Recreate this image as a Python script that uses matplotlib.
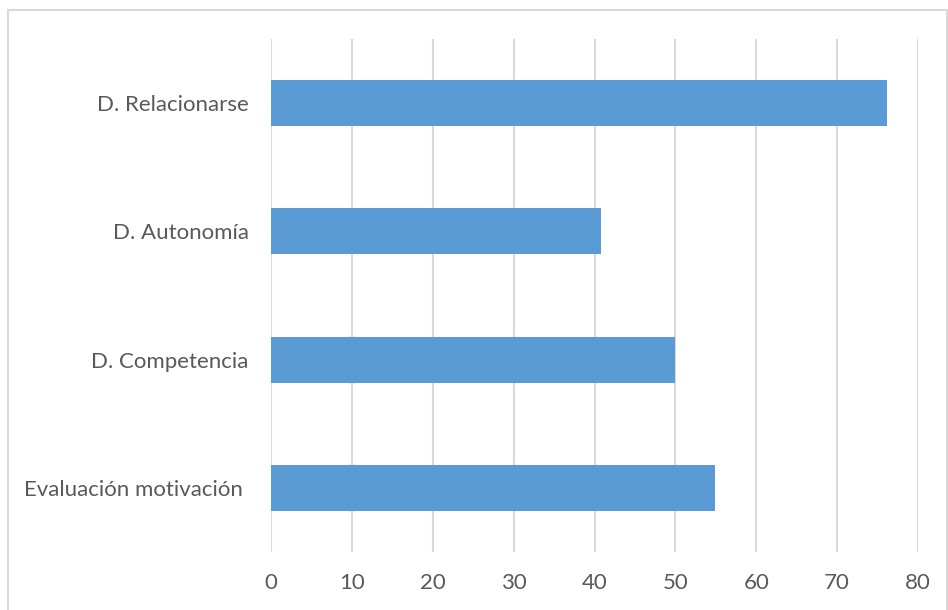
import matplotlib.pyplot as plt
from matplotlib.lines import Line2D

# datos del gráfico
categorias = ["Evaluación motivación ", "D. Competencia", "D. Autonomía", "D. Relacionarse"]
valores = [54.9, 50.0, 40.8, 76.2]
ticks_x = [0, 10, 20, 30, 40, 50, 60, 70, 80]

plt.rcParams['font.family'] = ['Lato', 'DejaVu Sans']

fig = plt.figure(figsize=(9.48, 6.10), dpi=100)
W, H = 948, 610
ax = fig.add_axes([271 / W, 1 - 552 / H, (918 - 271) / W, (552 - 39) / H])

ax.barh(range(len(categorias)), valores, height=0.36, color="#5b9bd5", zorder=3)

ax.set_xlim(0, 80)
ax.set_ylim(-0.5, len(categorias) - 0.5)
ax.set_xticks(ticks_x)
ax.set_yticks(range(len(categorias)))
ax.set_yticklabels(categorias)

ax.grid(axis="x", color="#d9d9d9", linewidth=1.5, zorder=0)
ax.tick_params(axis="both", length=0, labelsize=16, labelcolor="#595959")
ax.tick_params(axis="x", pad=15)
ax.tick_params(axis="y", pad=16)
for s in ax.spines.values():
    s.set_visible(False)

# marco exterior
c = "#d9d9d9"
fig.add_artist(Line2D([7.5 / W, 946.5 / W], [1 - 9.5 / H] * 2, color=c, lw=1.5, transform=fig.transFigure))
fig.add_artist(Line2D([7.5 / W] * 2, [0, 1 - 9.5 / H], color=c, lw=1.5, transform=fig.transFigure))
fig.add_artist(Line2D([946.5 / W] * 2, [0, 1 - 9.5 / H], color=c, lw=1.5, transform=fig.transFigure))

fig.savefig("out.png", dpi=100)
